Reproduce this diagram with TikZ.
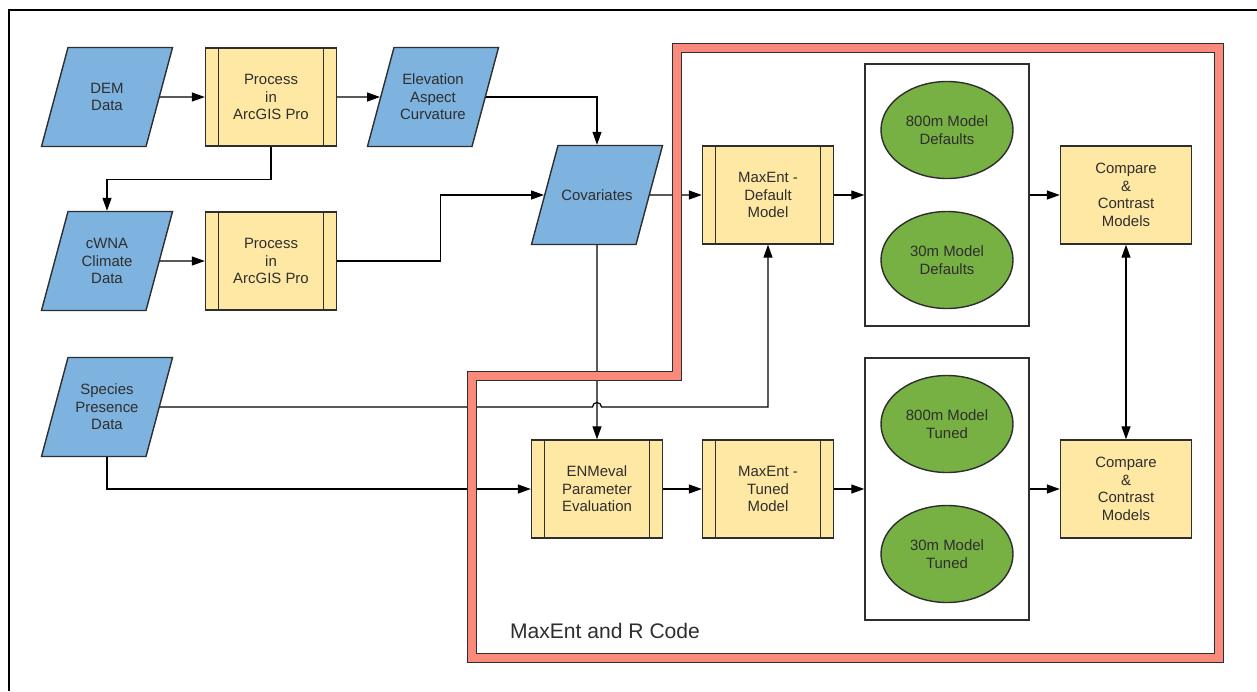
\documentclass[tikz,border=0pt]{standalone}
\usepackage{fontspec}
\setmainfont{Liberation Sans}
\usetikzlibrary{positioning,arrows.meta,shapes.geometric,calc}
\definecolor{DataBlue}{HTML}{7EB3E0}
\definecolor{ProcYellow}{HTML}{FFE8A3}
\definecolor{ModelGreen}{HTML}{77B043}
\definecolor{FrameRed}{HTML}{F98A7C}
\definecolor{InkGray}{HTML}{2E2E2E}
\newcommand{\datatext}[1]{\parbox[c][1.98cm][c]{1.56cm}{\centering #1}}

\begin{document}
\begin{tikzpicture}[>={Triangle[length=2.6mm,width=1.8mm]},line width=.7pt,
    font=\fontsize{8.5}{10}\selectfont]
    \tikzstyle{data}=[draw=InkGray,line width=.8pt,fill=DataBlue,trapezium,trapezium left angle=75,
      trapezium right angle=105,inner sep=0pt,text=InkGray]
    \tikzstyle{proc}=[draw=InkGray,line width=.8pt,fill=ProcYellow,minimum width=2.62cm,minimum height=1.96cm,
      inner sep=0pt,align=center,text=InkGray,
      path picture={\draw[InkGray,line width=.8pt] ([xshift=.26cm]path picture bounding box.north west)
        -- ([xshift=.26cm]path picture bounding box.south west);
        \draw[InkGray,line width=.8pt] ([xshift=-.26cm]path picture bounding box.north east)
        -- ([xshift=-.26cm]path picture bounding box.south east);}]
    \tikzstyle{cmpbox}=[draw=InkGray,line width=.8pt,fill=ProcYellow,minimum width=2.62cm,minimum height=1.96cm,
      inner sep=0pt,align=center,text=InkGray]
    \tikzstyle{grp}=[draw=InkGray,line width=.8pt,minimum width=3.28cm,minimum height=5.24cm,inner sep=0pt]
    \tikzstyle{model}=[draw=InkGray,line width=.8pt,fill=ModelGreen,ellipse,minimum width=2.64cm,
      minimum height=1.94cm,inner sep=0pt,align=center,text=InkGray]
    \useasboundingbox (0,0) rectangle (25.14,-13.82);
    \draw[line width=1.2pt] (0.18,-13.82) -- (0.18,-0.2) -- (25.14,-0.2);

    % inputs
    \node[data]  (dem)     at (2.14,-1.94)  {\datatext{DEM\\Data}};
    \node[proc]  (proc1)   at (5.42,-1.94)  {Process\\in\\ArcGIS Pro};
    \node[data]  (elev)    at (8.66,-1.94)  {\datatext{Elevation\\Aspect\\Curvature}};
    \node[data]  (cwna)    at (2.14,-5.22)  {\datatext{cWNA\\Climate\\Data}};
    \node[proc]  (proc2)   at (5.42,-5.22)  {Process\\in\\ArcGIS Pro};
    \node[data]  (species) at (2.14,-8.14)  {\datatext{Species\\Presence\\Data}};
    \node[data]  (cov)     at (11.94,-3.90) {\datatext{Covariates}};

    % models
    \node[proc]  (mxdef)   at (15.36,-3.90) {MaxEnt -\\Default\\Model};
    \node[grp]   (grp1)    at (18.94,-3.90) {};
    \node[model] (def800)  at (18.94,-2.60) {800m Model\\Defaults};
    \node[model] (def30)   at (18.94,-5.20) {30m Model\\Defaults};
    \node[cmpbox] (cmp1)   at (22.52,-3.90) {Compare\\\&\\Contrast\\Models};
    \node[proc]  (enm)     at (11.94,-9.78) {ENMeval\\Parameter\\Evaluation};
    \node[proc]  (mxtun)   at (15.36,-9.78) {MaxEnt -\\Tuned\\Model};
    \node[grp]   (grp2)    at (18.94,-9.78) {};
    \node[model] (tun800)  at (18.94,-8.48) {800m Model\\Tuned};
    \node[model] (tun30)   at (18.94,-11.08) {30m Model\\Tuned};
    \node[cmpbox] (cmp2)   at (22.52,-9.78) {Compare\\\&\\Contrast\\Models};

    \draw[->] (dem) -- (proc1);
    \draw[->] (proc1) -- (elev);
    \draw[->] (proc1.south) -- ++(0,-0.65) -| (cwna.north);
    \draw[->] (cwna) -- (proc2);
    \draw[->] (proc2.east) -- ++(2.06,0) |- (cov.west);
    \draw[->] (elev.east) -| (cov.north);
    \draw[->] (cov) -- (mxdef);
    \draw[->] (mxdef) -- (grp1);
    \draw[->] (grp1) -- (cmp1);
    \draw[->] (cov) -- (enm);
    \draw[->] (species.east) -- ($(cov.south |- species.east)+(-0.09,0)$) arc (180:0:0.09) -| (mxdef.south);
    \draw[->] (species.south) |- (enm.west);
    \draw[->] (enm) -- (mxtun);
    \draw[->] (mxtun) -- (grp2);
    \draw[->] (grp2) -- (cmp2);
    \draw[<->] (cmp1) -- (cmp2);

    % MaxEnt and R frame
    \draw[draw=InkGray,line width=.65pt,double=FrameRed,double distance=.17cm]
      (13.54,-0.96) -- (24.38,-0.96) -- (24.38,-13.16) -- (9.44,-13.16) -- (9.44,-7.52) -- (13.54,-7.52) -- cycle;
    \node[text=InkGray,font=\fontsize{12}{14}\selectfont] (rcode) at (12.10,-12.62) {MaxEnt and R Code};
\end{tikzpicture}
\end{document}
